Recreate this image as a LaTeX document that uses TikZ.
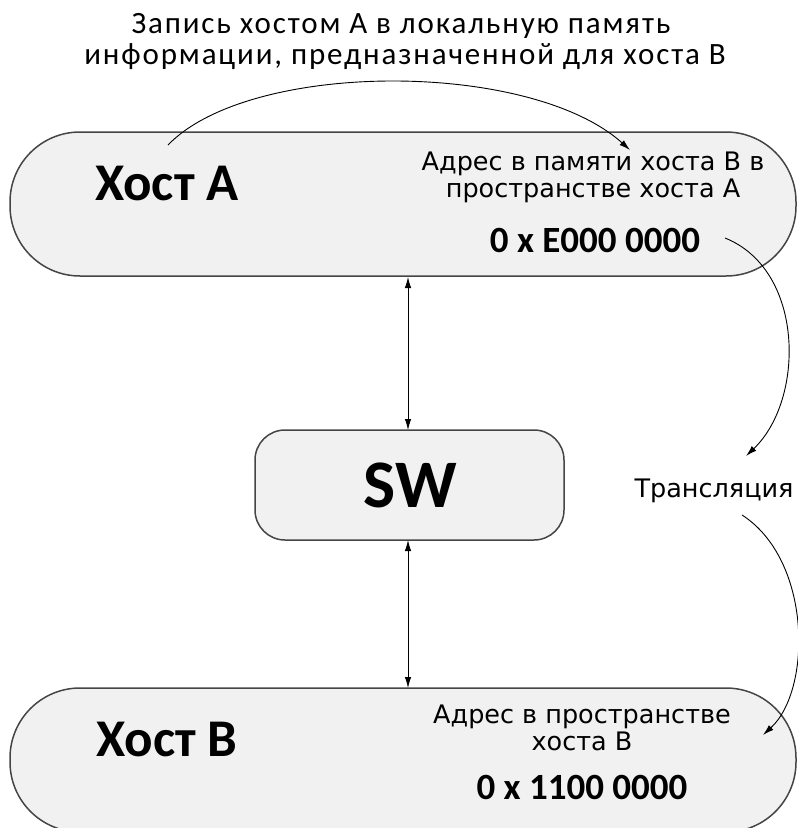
\documentclass[tikz,border=0pt]{standalone}
\usepackage{fontspec}
\setmainfont{Carlito}
\newfontfamily\labelfont{DejaVu Sans}
\newfontfamily\titlefont[LetterSpace=6]{Carlito}
\usetikzlibrary{arrows.meta}
\definecolor{boxfill}{HTML}{F1F1F1}
\definecolor{boxline}{HTML}{454545}
\tikzset{
  hostbox/.style={draw=boxline, fill=boxfill, line width=1.5pt, rounded corners=70pt},
  swbox/.style={draw=boxline, fill=boxfill, line width=1.5pt, rounded corners=30pt},
  txt/.style={inner sep=0pt, anchor=base, text=black},
  titletxt/.style={txt, font=\titlefont\fontsize{31}{34}\selectfont},
  hosttxt/.style={txt, font=\fontsize{53}{56}\selectfont\bfseries},
  addrtxt/.style={txt, font=\labelfont\fontsize{25.5}{28}\selectfont},
  numtxt/.style={txt, font=\fontsize{37}{40}\selectfont\bfseries},
  link/.style={draw=black, line width=0.9pt},
  tip/.style={-{Latex[length=11pt,width=6.5pt]}},
  bothtips/.style={{Latex[length=11pt,width=6.5pt]}-{Latex[length=11pt,width=6.5pt]}}
}
\begin{document}
\begin{tikzpicture}[x=1pt,y=-1pt]
  \useasboundingbox (0,0) rectangle (798,828);
  \clip (0,0) rectangle (798,828);

  % hosts and switch
  \draw[hostbox] (10,132) rectangle (796,276);
  \draw[swbox] (255,430) rectangle (564,540);
  \draw[hostbox] (10,688) rectangle (796,832);

  % caption above
  \node[titletxt] (title1) at (401,33) {Запись хостом А в локальную память};
  \node[titletxt] (title2) at (405,64) {информации, предназначенной для хоста В};

  % host A
  \node[hosttxt] (hostA) at (167,200) {Хост А};
  \node[addrtxt] (addrA1) at (593,170) {Адрес в памяти хоста В в};
  \node[addrtxt] (addrA2) at (593,197) {пространстве хоста А};
  \node[numtxt] (numA) at (595,252) {0 x E000 0000};

  % switch
  \node[txt, font=\fontsize{68}{70}\selectfont\bfseries] (sw) at (410,507) {SW};

  \node[addrtxt] (trans) at (714,497) {Трансляция};

  % host B
  \node[hosttxt] (hostB) at (167,756) {Хост В};
  \node[addrtxt] (addrB1) at (582,723) {Адрес в пространстве};
  \node[addrtxt] (addrB2) at (582,750) {хоста В};
  \node[numtxt] (numB) at (582,799) {0 x 1100 0000};

  % connector anchors
  \coordinate (wStart) at (168,145);
  \coordinate (wEnd) at (630,150);
  \coordinate (tStart) at (725,238);
  \coordinate (tEnd) at (746,456);
  \coordinate (bStart) at (742,515);
  \coordinate (bEnd) at (763,735);
  \coordinate (aBot) at (408,277);
  \coordinate (swTop) at (408,430);
  \coordinate (swBot) at (408,540);
  \coordinate (bTop) at (408,688);

  % links between hosts and switch
  \draw[link, bothtips] (aBot) -- (swTop);
  \draw[link, bothtips] (swBot) -- (bTop);

  % write and translation arcs
  \draw[link, tip] (wStart) .. controls (250,60) and (530,60) .. (wEnd);
  \draw[link, tip] (tStart) .. controls (805,270) and (805,400) .. (tEnd);
  \draw[link, tip] (bStart) .. controls (812,560) and (812,690) .. (bEnd);
\end{tikzpicture}
\end{document}
